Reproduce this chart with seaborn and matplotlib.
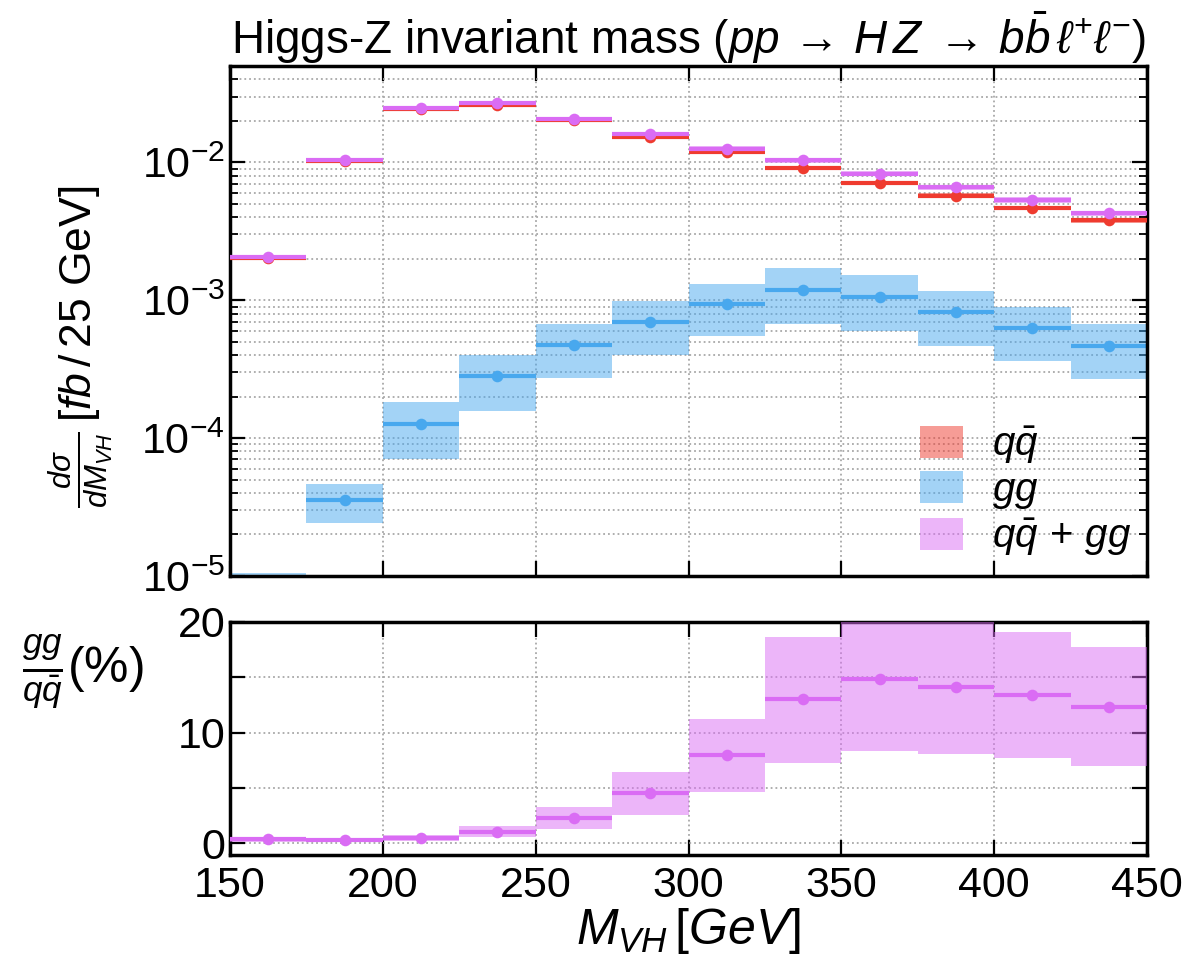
import matplotlib
matplotlib.use('Agg')
import matplotlib.pyplot as plt
from matplotlib.patches import Patch
from matplotlib.ticker import LogLocator, MultipleLocator, FuncFormatter, NullFormatter
import seaborn as sns
import numpy as np

sns.set_style("ticks")
plt.rcParams['font.family'] = ['Liberation Sans', 'DejaVu Sans']
plt.rcParams['mathtext.fontset'] = 'custom'
plt.rcParams['mathtext.rm'] = 'Liberation Sans'
plt.rcParams['mathtext.it'] = 'Liberation Sans:italic'
plt.rcParams['mathtext.bf'] = 'Liberation Sans:bold'
for k in ['text.color', 'axes.labelcolor', 'xtick.color', 'ytick.color', 'axes.edgecolor']:
    plt.rcParams[k] = 'black'

# bins in M_VH (GeV)
bin_lo = [150, 175, 200, 225, 250, 275, 300, 325, 350, 375, 400, 425]
bin_w = 25

# q qbar contribution (fb / 25 GeV)
qq = [2.04e-3, 1.03e-2, 2.44e-2, 2.62e-2, 2.02e-2, 1.53e-2, 1.18e-2, 9.1e-3, 7.1e-3, 5.75e-3, 4.68e-3, 3.79e-3]
qq_lo = [1.99e-3, 1.00e-2, 2.40e-2, 2.58e-2, 1.98e-2, 1.50e-2, 1.15e-2, 8.85e-3, 6.9e-3, 5.55e-3, 4.50e-3, 3.66e-3]
qq_hi = [2.08e-3, 1.06e-2, 2.48e-2, 2.66e-2, 2.06e-2, 1.56e-2, 1.21e-2, 9.35e-3, 7.3e-3, 5.95e-3, 4.86e-3, 3.92e-3]

# gg contribution
gg = [7.0e-6, 3.54e-5, 1.27e-4, 2.81e-4, 4.72e-4, 6.93e-4, 9.37e-4, 1.19e-3, 1.06e-3, 8.15e-4, 6.34e-4, 4.69e-4]
gg_lo = [4.5e-6, 2.42e-5, 7.08e-5, 1.58e-4, 2.75e-4, 4.02e-4, 5.55e-4, 6.67e-4, 6.03e-4, 4.69e-4, 3.65e-4, 2.69e-4]
gg_hi = [1.05e-5, 4.62e-5, 1.83e-4, 4.02e-4, 6.75e-4, 9.9e-4, 1.32e-3, 1.72e-3, 1.53e-3, 1.17e-3, 8.97e-4, 6.75e-4]

# q qbar + gg
tot = [2.05e-3, 1.04e-2, 2.46e-2, 2.68e-2, 2.07e-2, 1.60e-2, 1.26e-2, 1.035e-2, 8.28e-3, 6.58e-3, 5.36e-3, 4.26e-3]
tot_lo = [2.00e-3, 1.00e-2, 2.42e-2, 2.63e-2, 2.02e-2, 1.55e-2, 1.21e-2, 0.99e-2, 7.9e-3, 6.28e-3, 5.10e-3, 4.08e-3]
tot_hi = [2.09e-3, 1.08e-2, 2.50e-2, 2.73e-2, 2.12e-2, 1.65e-2, 1.31e-2, 1.08e-2, 8.7e-3, 6.9e-3, 5.65e-3, 4.45e-3]

# gg / qq ratio (%)
ratio = [0.36, 0.33, 0.48, 1.05, 2.32, 4.52, 7.98, 13.02, 14.86, 14.13, 13.41, 12.35]
ratio_lo = [0.12, 0.10, 0.24, 0.57, 1.32, 2.59, 4.67, 7.29, 8.35, 8.07, 7.74, 7.02]
ratio_hi = [0.55, 0.52, 0.72, 1.56, 3.28, 6.45, 11.24, 18.65, 21.0, 21.0, 19.1, 17.75]

RED = "#ef3b2f"
BLUE = "#48a8ee"
MAG = "#da6cf4"

bin_lo = np.array(bin_lo)
centers = bin_lo + bin_w / 2


def dibujar(ax, val, lo, hi, color, z):
    lo = np.array(lo)
    hi = np.array(hi)
    ax.bar(bin_lo, hi - lo, width=bin_w, bottom=lo, align='edge',
           color=color, alpha=0.5, linewidth=0, zorder=z)
    ax.hlines(val, bin_lo, bin_lo + bin_w, colors=color, linewidth=3, zorder=z + 0.5)
    sns.scatterplot(x=centers, y=val, ax=ax, color=color, s=70, linewidth=0,
                    zorder=z + 0.6, legend=False)


def estilo(ax):
    for s in ax.spines.values():
        s.set_linewidth(2.5)
    ax.tick_params(which='both', direction='in', top=True, right=True, labelsize=31)
    ax.tick_params(which='major', length=11, width=1.6)
    ax.tick_params(which='minor', length=6, width=1.3)


fig = plt.figure(figsize=(11.9, 9.6), dpi=100)
ax1 = fig.add_axes([0.1933, 0.4, 0.7706, 0.53125])
ax2 = fig.add_axes([0.1933, 0.1094, 0.7706, 0.2427])

# panel superior
dibujar(ax1, gg, gg_lo, gg_hi, BLUE, 2)
dibujar(ax1, qq, qq_lo, qq_hi, RED, 3)
dibujar(ax1, tot, tot_lo, tot_hi, MAG, 4)
ax1.set_yscale('log')
ax1.set_xlim(150, 450)
ax1.set_ylim(1e-5, 5e-2)
ax1.xaxis.set_major_locator(MultipleLocator(50))
ax1.yaxis.set_major_locator(LogLocator(base=10, numticks=10))
ax1.yaxis.set_minor_locator(LogLocator(base=10, subs=np.arange(2, 10), numticks=20))
ax1.yaxis.set_minor_formatter(NullFormatter())
ax1.set_xticklabels([])
ax1.grid(True, which='both', axis='y', linestyle=':', color='#a8a8a8', linewidth=1.3)
ax1.grid(True, which='major', axis='x', linestyle=':', color='#a8a8a8', linewidth=1.3)
estilo(ax1)
ax1.set_ylabel(r'$\frac{d\sigma}{dM_{VH}}\,[fb\,/\,25\ \mathrm{GeV}]$', fontsize=32, labelpad=10)
ax1.yaxis.set_label_coords(-0.125, 0.45)
ax1.set_title(r'Higgs-Z invariant mass ($pp\,\rightarrow\,H\,Z\;\rightarrow\,b\bar{b}\,\ell^{+}\ell^{-}$)',
              fontsize=33, pad=8)

handles = [Patch(facecolor=RED, alpha=0.5, linewidth=0),
           Patch(facecolor=BLUE, alpha=0.5, linewidth=0),
           Patch(facecolor=MAG, alpha=0.5, linewidth=0)]
labels = [r'$q\bar{q}$', r'$gg$', r'$q\bar{q}\,+\,gg$']
ax1.legend(handles, labels, loc='lower right', bbox_to_anchor=(1.022, -0.035), frameon=False,
           fontsize=29, handlelength=1.07, handleheight=0.85, labelspacing=0.12, handletextpad=0.7)

# panel inferior: cociente
dibujar(ax2, ratio, ratio_lo, ratio_hi, MAG, 3)
ax2.set_xlim(150, 450)
ax2.set_ylim(-1.05, 20)
ax2.xaxis.set_major_locator(MultipleLocator(50))
ax2.yaxis.set_major_locator(MultipleLocator(5))
ax2.yaxis.set_major_formatter(FuncFormatter(lambda v, p: f'{int(v)}' if int(round(v)) % 10 == 0 else ''))
ax2.grid(True, which='major', linestyle=':', color='#a8a8a8', linewidth=1.3)
estilo(ax2)
ax2.tick_params(axis='x', pad=8)
ax2.set_xlabel(r'$M_{VH}\,[GeV]$', fontsize=36, labelpad=0)
ax2.set_ylabel(r'$\frac{gg}{q\bar{q}}(\%)$', fontsize=36, rotation=0, labelpad=10)
ax2.yaxis.set_label_coords(-0.16, 0.62)

fig.savefig('out.png', dpi=100)
